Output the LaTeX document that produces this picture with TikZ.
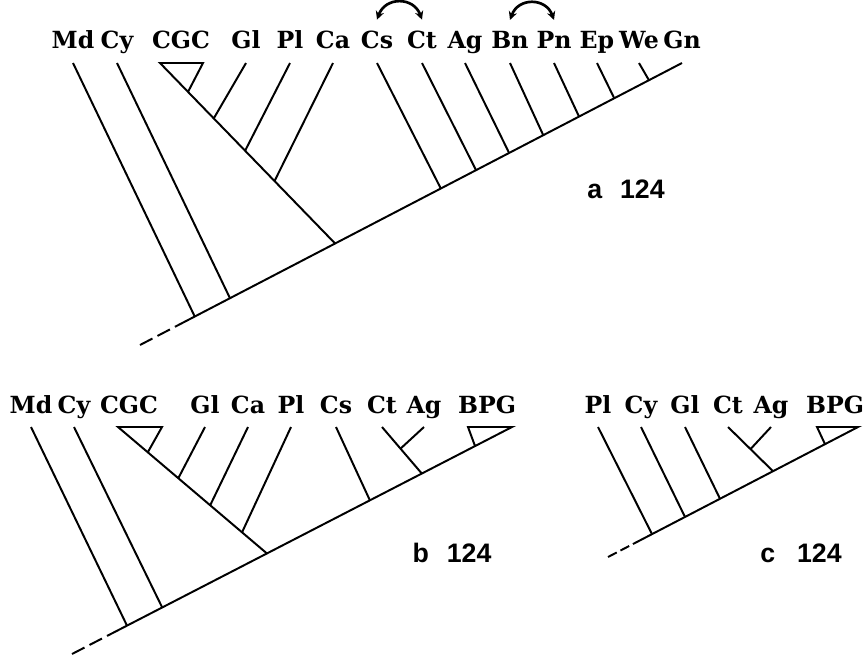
\documentclass[tikz,border=0pt]{standalone}
\usepackage{fontspec}
\setmainfont{DejaVu Serif}
\newfontfamily\numfont{Liberation Sans}
\usetikzlibrary{calc, arrows.meta}

\begin{document}
\begin{tikzpicture}[
		x = 0.025cm, y = -0.025cm, % one unit = one pixel, y runs down
		> = {Stealth[length=6pt, width=6pt]}, % arrow head style
		line width = 1.4pt % line style
		]
		
		\tikzstyle{taxon}=[
		font = \fontsize{16.8}{17}\selectfont\bfseries,
		inner sep = 0pt,
		anchor = base
		]
		\tikzstyle{caption}=[
		font = \numfont\fontsize{19}{19}\selectfont\bfseries,
		inner sep = 0pt,
		anchor = base
		]
		\tikzstyle{lost}=[dash pattern=on 10pt off 4pt]
		\tikzstyle{swap}=[<->, line width=1.9pt, bend left=70, looseness=1.4]
		
		\useasboundingbox (0,0) rectangle (868,659);
		
		%% tree a
		\node[taxon] (aMd) at (73,48) {Md};
		\node[taxon] (aCy) at (117,48) {Cy};
		\node[taxon] (aCGC) at (181,48) {CGC};
		\node[taxon] (aGl) at (246,48) {Gl};
		\node[taxon] (aPl) at (290,48) {Pl};
		\node[taxon] (aCa) at (333,48) {Ca};
		\node[taxon] (aCs) at (377,48) {Cs};
		\node[taxon] (aCt) at (422,48) {Ct};
		\node[taxon] (aAg) at (465,48) {Ag};
		\node[taxon] (aBn) at (510,48) {Bn};
		\node[taxon] (aPn) at (554,48) {Pn};
		\node[taxon] (aEp) at (597,48) {Ep};
		\node[taxon] (aWe) at (639,48) {We};
		\node[taxon] (aGn) at (682,48) {Gn};
		\node[caption] (aFig) at (626,198) {a\hspace{12.8pt}124};
		
		\coordinate (aRoot) at (140,345);
		\coordinate (aTop) at (aGn |- 0,63);
		\coordinate (aCut) at ($(aRoot)!.065!(aTop)$);
		\coordinate (aTri1) at (160,63);
		\coordinate (aTri2) at (203,63);
		\coordinate (aCGCj) at ($(aRoot)!.36!(aTop)$);
		\coordinate (aTri3) at ($(aTri1)!.16!(aCGCj)$);
		\path (aMd |- 0,63) coordinate (aMdt) ($(aRoot)!.101!(aTop)$) coordinate (aMdj);
		\path (aCy |- 0,63) coordinate (aCyt) ($(aRoot)!.166!(aTop)$) coordinate (aCyj);
		\path (aGl |- 0,63) coordinate (aGlt) ($(aTri1)!.307!(aCGCj)$) coordinate (aGlj);
		\path (aPl |- 0,63) coordinate (aPlt) ($(aTri1)!.486!(aCGCj)$) coordinate (aPlj);
		\path (aCa |- 0,63) coordinate (aCat) ($(aTri1)!.654!(aCGCj)$) coordinate (aCaj);
		\path (aCs |- 0,63) coordinate (aCst) ($(aRoot)!.555!(aTop)$) coordinate (aCsj);
		\path (aCt |- 0,63) coordinate (aCtt) ($(aRoot)!.62!(aTop)$) coordinate (aCtj);
		\path (aAg |- 0,63) coordinate (aAgt) ($(aRoot)!.681!(aTop)$) coordinate (aAgj);
		\path (aBn |- 0,63) coordinate (aBnt) ($(aRoot)!.744!(aTop)$) coordinate (aBnj);
		\path (aPn |- 0,63) coordinate (aPnt) ($(aRoot)!.81!(aTop)$) coordinate (aPnj);
		\path (aEp |- 0,63) coordinate (aEpt) ($(aRoot)!.875!(aTop)$) coordinate (aEpj);
		\path (aWe |- 0,63) coordinate (aWet) ($(aRoot)!.939!(aTop)$) coordinate (aWej);
		
		\draw (aTri3) -- (aTri2) -- (aTri1) -- (aCGCj);
		\path
		(aRoot)	edge [lost] (aCut)
		(aCut)	edge [] (aTop)
		(aMdt)	edge [] (aMdj)
		(aCyt)	edge [] (aCyj)
		(aGlt)	edge [] (aGlj)
		(aPlt)	edge [] (aPlj)
		(aCat)	edge [] (aCaj)
		(aCst)	edge [] (aCsj)
		(aCtt)	edge [] (aCtj)
		(aAgt)	edge [] (aAgj)
		(aBnt)	edge [] (aBnj)
		(aPnt)	edge [] (aPnj)
		(aEpt)	edge [] (aEpj)
		(aWet)	edge [] (aWej)
		([yshift=7pt]aCs.north) edge [swap] ([yshift=7pt]aCt.north)
		([yshift=7pt]aBn.north) edge [swap] ([yshift=7pt]aPn.north)
		;
		
		%% tree b
		\node[taxon] (bMd) at (31,413) {Md};
		\node[taxon] (bCy) at (74,413) {Cy};
		\node[taxon] (bCGC) at (129,413) {CGC};
		\node[taxon] (bGl) at (205,413) {Gl};
		\node[taxon] (bCa) at (248,413) {Ca};
		\node[taxon] (bPl) at (291,413) {Pl};
		\node[taxon] (bCs) at (336,413) {Cs};
		\node[taxon] (bCt) at (382,413) {Ct};
		\node[taxon] (bAg) at (424,413) {Ag};
		\node[taxon] (bBPG) at (487,413) {BPG};
		\node[caption] (bFig) at (452,562) {b\hspace{12.8pt}124};
		
		\coordinate (bRoot) at (72,654);
		\coordinate (bTop) at (512,427);
		\coordinate (bCut) at ($(bRoot)!.08!(bTop)$);
		\coordinate (bBox) at (468,427);
		\coordinate (bFoot) at ($(bRoot)!.916!(bTop)$);
		\coordinate (bTri1) at (118,427);
		\coordinate (bTri2) at (162,427);
		\coordinate (bCGCj) at ($(bRoot)!.443!(bTop)$);
		\coordinate (bTri3) at ($(bTri1)!.2!(bCGCj)$);
		\path (bMd |- 0,427) coordinate (bMdt) ($(bRoot)!.125!(bTop)$) coordinate (bMdj);
		\path (bCy |- 0,427) coordinate (bCyt) ($(bRoot)!.205!(bTop)$) coordinate (bCyj);
		\path (bGl |- 0,427) coordinate (bGlt) ($(bTri1)!.405!(bCGCj)$) coordinate (bGlj);
		\path (bCa |- 0,427) coordinate (bCat) ($(bTri1)!.619!(bCGCj)$) coordinate (bCaj);
		\path (bPl |- 0,427) coordinate (bPlt) ($(bTri1)!.833!(bCGCj)$) coordinate (bPlj);
		\path (bCs |- 0,427) coordinate (bCst) ($(bRoot)!.677!(bTop)$) coordinate (bCsj);
		\path (bCt |- 0,427) coordinate (bCtt) ($(bRoot)!.795!(bTop)$) coordinate (bCtj);
		\path (bAg |- 0,427) coordinate (bAgt) ($(bCtt)!.465!(bCtj)$) coordinate (bAgj);
		
		\draw (bTri3) -- (bTri2) -- (bTri1) -- (bCGCj);
		\draw (bCut) -- (bTop) -- (bBox) -- (bFoot);
		\path
		(bRoot)	edge [lost] (bCut)
		(bMdt)	edge [] (bMdj)
		(bCyt)	edge [] (bCyj)
		(bGlt)	edge [] (bGlj)
		(bCat)	edge [] (bCaj)
		(bPlt)	edge [] (bPlj)
		(bCst)	edge [] (bCsj)
		(bCtt)	edge [] (bCtj)
		(bAgt)	edge [] (bAgj)
		;
		
		%% tree c
		\node[taxon] (cPl) at (598,413) {Pl};
		\node[taxon] (cCy) at (641,413) {Cy};
		\node[taxon] (cGl) at (685,413) {Gl};
		\node[taxon] (cCt) at (728,413) {Ct};
		\node[taxon] (cAg) at (771,413) {Ag};
		\node[taxon] (cBPG) at (835,413) {BPG};
		\node[caption] (cFig) at (801,562) {c\hspace{15.6pt}124};
		
		\coordinate (cRoot) at (608,557);
		\coordinate (cTop) at (858,427);
		\coordinate (cCut) at ($(cRoot)!.1!(cTop)$);
		\coordinate (cBox) at (817,427);
		\coordinate (cFoot) at ($(cRoot)!.868!(cTop)$);
		\path (cPl |- 0,427) coordinate (cPlt) ($(cRoot)!.176!(cTop)$) coordinate (cPlj);
		\path (cCy |- 0,427) coordinate (cCyt) ($(cRoot)!.308!(cTop)$) coordinate (cCyj);
		\path (cGl |- 0,427) coordinate (cGlt) ($(cRoot)!.448!(cTop)$) coordinate (cGlj);
		\path (cCt |- 0,427) coordinate (cCtt) ($(cRoot)!.66!(cTop)$) coordinate (cCtj);
		\path (cAg |- 0,427) coordinate (cAgt) ($(cCtt)!.5!(cCtj)$) coordinate (cAgj);
		
		\draw (cCut) -- (cTop) -- (cBox) -- (cFoot);
		\path
		(cRoot)	edge [lost, dash pattern=on 7pt off 3pt] (cCut)
		(cPlt)	edge [] (cPlj)
		(cCyt)	edge [] (cCyj)
		(cGlt)	edge [] (cGlj)
		(cCtt)	edge [] (cCtj)
		(cAgt)	edge [] (cAgj)
		;
	\end{tikzpicture}
\end{document}
